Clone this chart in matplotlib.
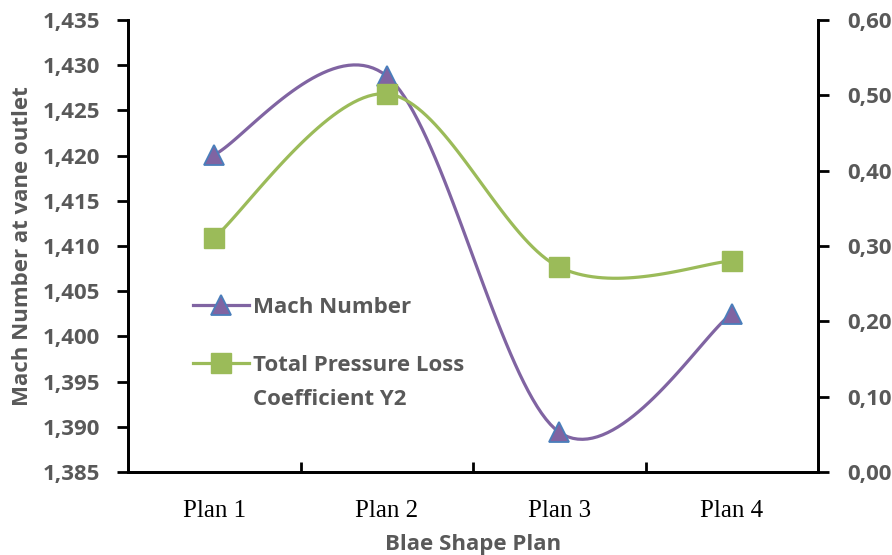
import numpy as np
import matplotlib.pyplot as plt
from matplotlib.lines import Line2D
from matplotlib.ticker import FuncFormatter, FixedLocator

plans = ['Plan 1', 'Plan 2', 'Plan 3', 'Plan 4']
mach = [1.4201, 1.4288, 1.3894, 1.4025]
loss_y2 = [0.311, 0.502, 0.272, 0.280]

PURPLE = '#8064A2'
BLUE = '#4A7EBB'
GREEN = '#9BBB59'
GREY = '#595959'
SANS = 'Open Sans'
SERIF = 'Liberation Serif'


def smooth(xs, ys, n=40):
    # bezier smoothing between neighbouring points, like office chart "smoothed line"
    xs = np.asarray(xs, float)
    ys = np.asarray(ys, float)
    px = np.concatenate([[xs[0]], xs, [xs[-1]]])
    py = np.concatenate([[ys[0]], ys, [ys[-1]]])
    t = np.linspace(0, 1, n)[:, None]
    out = []
    for i in range(1, len(px) - 2):
        p0 = np.array([px[i], py[i]])
        p3 = np.array([px[i + 1], py[i + 1]])
        c1 = p0 + (np.array([px[i + 1], py[i + 1]]) - np.array([px[i - 1], py[i - 1]])) / 6
        c2 = p3 - (np.array([px[i + 2], py[i + 2]]) - np.array([px[i], py[i]])) / 6
        seg = ((1 - t) ** 3) * p0 + 3 * ((1 - t) ** 2) * t * c1 + 3 * (1 - t) * t ** 2 * c2 + t ** 3 * p3
        out.append(seg if i == 1 else seg[1:])
    out = np.vstack(out)
    return out[:, 0], out[:, 1]


def comma_fmt(decimals):
    return FuncFormatter(lambda v, pos: f'{v:.{decimals}f}'.replace('.', ','))


fig = plt.figure(figsize=(8.92, 5.55), dpi=100)
ax = fig.add_axes([128 / 892, 83 / 555, 690 / 892, 452 / 555])
ax2 = ax.twinx()

x = np.arange(len(plans))

sx, sy = smooth(x, mach)
ax.plot(sx, sy, color=PURPLE, lw=2.3, zorder=3)
ax.plot(x, mach, ls='none', marker='^', ms=15, mfc=PURPLE, mec=BLUE, mew=1.3, zorder=4)

gx, gy = smooth(x, loss_y2)
ax2.plot(gx, gy, color=GREEN, lw=2.3, zorder=3)
ax2.plot(x, loss_y2, ls='none', marker='s', ms=15, mfc=GREEN, mec=GREEN, zorder=4)

ax.set_xlim(-0.5, 3.5)
ax.set_ylim(1.385, 1.435)
ax.set_yticks(np.arange(1.385, 1.4351, 0.005))
ax.yaxis.set_major_formatter(comma_fmt(3))
ax2.set_ylim(0, 0.6)
ax2.set_yticks(np.arange(0, 0.601, 0.1))
ax2.yaxis.set_major_formatter(comma_fmt(2))

ax.set_xticks(x)
ax.set_xticklabels(plans, fontfamily=SERIF, fontsize=18)
ax.xaxis.set_minor_locator(FixedLocator([0.5, 1.5, 2.5]))
ax.tick_params(axis='x', which='major', length=0, pad=20)
ax.tick_params(axis='x', which='minor', length=7, width=2, direction='in')

for a in (ax, ax2):
    a.spines['top'].set_visible(False)
    for s in ('left', 'right', 'bottom'):
        a.spines[s].set_linewidth(2)
        a.spines[s].set_color('black')
    a.tick_params(axis='y', length=8, width=2, labelsize=16, labelcolor=GREY)
    for lab in a.get_yticklabels():
        lab.set_fontfamily(SANS)
        lab.set_fontweight('bold')
ax.tick_params(axis='y', pad=12)
ax2.tick_params(axis='y', pad=13)

ax.set_ylabel('Mach Number at vane outlet', fontfamily=SANS, fontweight='bold',
              fontsize=16, color=GREY, labelpad=7)
ax.set_xlabel('Blae Shape Plan', fontfamily=SANS, fontweight='bold',
              fontsize=16, color=GREY, labelpad=9)

handles = [
    Line2D([], [], color=PURPLE, lw=2.3, marker='^', ms=15, mfc=PURPLE, mec=BLUE, mew=1.3),
    Line2D([], [], color=GREEN, lw=2.3, marker='s', ms=15, mfc=GREEN, mec=GREEN),
]
leg = ax2.legend(handles, ['Mach Number', 'Total Pressure Loss'],
                 loc='upper left', bbox_to_anchor=(193 / 892, 1 - 297 / 555),
                 bbox_transform=fig.transFigure,
                 frameon=False, borderpad=0, borderaxespad=0, handlelength=2.5,
                 handletextpad=0.2, labelspacing=1.65,
                 prop={'family': SANS, 'weight': 'bold', 'size': 16})
for t in leg.get_texts():
    t.set_color(GREY)

# second line of the loss label sits under the first
fig.canvas.draw()
bb = leg.get_texts()[1].get_window_extent()
fig.text(bb.x0 / 892, (bb.y0 - 13) / 555, 'Coefficient Y2', ha='left', va='top',
         fontfamily=SANS, fontweight='bold', fontsize=16, color=GREY)

fig.savefig('out.png', dpi=100)
